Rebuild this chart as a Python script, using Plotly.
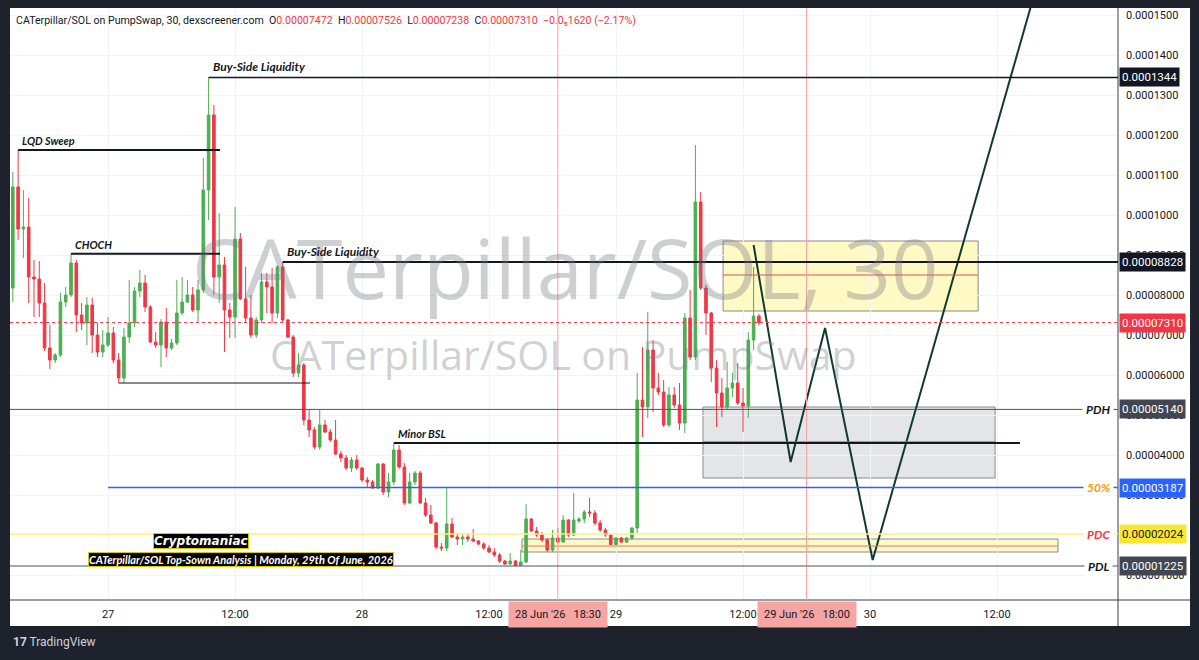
import pandas as pd
import plotly.graph_objects as go

# ---------------- data (prices in SOL) ----------------
opens = [8.175e-5, 10.70e-5, 9.65e-5, 9.70e-5, 8.45e-5, 8.40e-5, 7.80e-5, 6.675e-5, 6.375e-5, 6.50e-5,
         7.825e-5, 8.00e-5, 8.80e-5, 7.50e-5, 7.30e-5, 7.75e-5, 7.00e-5, 6.575e-5, 6.75e-5, 7.05e-5,
         6.375e-5, 5.925e-5, 6.95e-5, 7.30e-5, 8.10e-5, 8.30e-5, 7.70e-5, 6.825e-5, 6.75e-5, 7.325e-5,
         6.675e-5, 6.80e-5, 7.55e-5, 7.825e-5, 8.00e-5, 7.625e-5, 8.125e-5, 10.625e-5, 12.50e-5, 8.45e-5,
         8.75e-5, 7.625e-5, 7.45e-5, 9.40e-5, 7.90e-5, 7.425e-5, 7.00e-5, 7.375e-5, 8.325e-5, 8.20e-5,
         7.55e-5, 8.70e-5, 7.375e-5, 6.95e-5, 6.05e-5, 6.25e-5, 4.875e-5, 4.625e-5, 4.20e-5, 4.75e-5,
         4.575e-5, 4.375e-5, 4.025e-5, 3.925e-5, 3.675e-5, 3.875e-5, 3.675e-5, 3.375e-5, 3.325e-5, 3.175e-5,
         3.775e-5, 3.075e-5, 3.325e-5, 4.125e-5, 3.70e-5, 2.80e-5, 3.325e-5, 3.55e-5, 2.80e-5, 2.50e-5,
         2.30e-5, 1.70e-5, 1.675e-5, 2.275e-5, 1.95e-5, 1.90e-5, 1.95e-5, 1.90e-5, 1.85e-5, 1.775e-5,
         1.675e-5, 1.575e-5, 1.50e-5, 1.35e-5, 1.275e-5, 1.35e-5, 1.24e-5, 1.325e-5, 2.40e-5, 2.10e-5,
         2.00e-5, 1.875e-5, 1.625e-5, 1.925e-5, 1.825e-5, 2.375e-5, 2.00e-5, 2.35e-5, 2.40e-5, 2.575e-5,
         2.55e-5, 2.30e-5, 2.125e-5, 2.00e-5, 1.76e-5, 1.925e-5, 1.825e-5, 1.925e-5, 2.175e-5, 5.375e-5,
         5.20e-5, 6.625e-5, 5.675e-5, 5.575e-5, 4.75e-5, 5.50e-5, 5.25e-5, 4.80e-5, 7.425e-5, 6.45e-5,
         10.325e-5, 8.175e-5, 7.55e-5, 6.175e-5, 5.55e-5, 5.20e-5, 5.675e-5, 5.80e-5, 5.30e-5, 5.225e-5,
         6.875e-5, 7.472e-5]
highs = [11.075e-5, 11.625e-5, 10.625e-5, 10.425e-5, 8.875e-5, 8.85e-5, 8.30e-5, 7.25e-5, 6.55e-5, 8.05e-5,
         8.20e-5, 9.03e-5, 8.875e-5, 7.80e-5, 7.95e-5, 7.925e-5, 7.30e-5, 7.125e-5, 7.45e-5, 7.20e-5,
         6.55e-5, 7.175e-5, 8.375e-5, 8.20e-5, 8.625e-5, 8.50e-5, 7.75e-5, 7.075e-5, 7.40e-5, 7.675e-5,
         6.90e-5, 8.375e-5, 8.45e-5, 8.375e-5, 8.20e-5, 8.375e-5, 11.425e-5, 13.44e-5, 12.75e-5, 10.05e-5,
         8.95e-5, 7.80e-5, 10.20e-5, 9.55e-5, 8.70e-5, 8.00e-5, 7.45e-5, 8.55e-5, 8.55e-5, 8.675e-5,
         8.75e-5, 8.828e-5, 7.40e-5, 7.00e-5, 6.55e-5, 6.30e-5, 5.125e-5, 4.70e-5, 5.125e-5, 4.875e-5,
         4.65e-5, 4.875e-5, 4.10e-5, 4.00e-5, 3.95e-5, 4.00e-5, 3.70e-5, 3.45e-5, 3.375e-5, 3.80e-5,
         3.80e-5, 3.55e-5, 4.30e-5, 4.25e-5, 3.80e-5, 3.55e-5, 3.60e-5, 3.60e-5, 2.925e-5, 2.75e-5,
         2.325e-5, 1.80e-5, 3.175e-5, 2.425e-5, 2.05e-5, 2.05e-5, 2.05e-5, 2.15e-5, 1.875e-5, 1.825e-5,
         1.75e-5, 1.675e-5, 1.55e-5, 1.375e-5, 1.55e-5, 1.375e-5, 1.625e-5, 2.775e-5, 2.425e-5, 2.20e-5,
         2.075e-5, 1.925e-5, 2.125e-5, 2.175e-5, 2.50e-5, 2.40e-5, 3.05e-5, 2.45e-5, 2.625e-5, 2.925e-5,
         2.625e-5, 2.375e-5, 2.175e-5, 2.025e-5, 1.95e-5, 1.95e-5, 1.95e-5, 2.20e-5, 6.05e-5, 6.70e-5,
         7.575e-5, 6.875e-5, 6.05e-5, 5.875e-5, 5.70e-5, 5.70e-5, 5.80e-5, 7.55e-5, 8.125e-5, 11.75e-5,
         10.575e-5, 8.25e-5, 7.575e-5, 6.375e-5, 5.925e-5, 6.325e-5, 6.05e-5, 6.30e-5, 5.675e-5, 7.075e-5,
         8.70e-5, 7.526e-5]
lows = [7.825e-5, 9.375e-5, 8.925e-5, 7.80e-5, 7.45e-5, 7.45e-5, 6.60e-5, 6.15e-5, 6.30e-5, 6.45e-5,
        7.70e-5, 7.95e-5, 7.075e-5, 7.125e-5, 6.75e-5, 6.55e-5, 6.45e-5, 6.45e-5, 6.70e-5, 6.30e-5,
        5.80e-5, 5.80e-5, 6.80e-5, 7.20e-5, 7.95e-5, 7.575e-5, 6.80e-5, 6.675e-5, 6.20e-5, 6.45e-5,
        6.625e-5, 6.75e-5, 7.50e-5, 7.80e-5, 7.575e-5, 7.30e-5, 8.05e-5, 9.875e-5, 8.00e-5, 7.80e-5,
        6.575e-5, 6.925e-5, 6.925e-5, 7.875e-5, 7.30e-5, 6.925e-5, 6.925e-5, 7.30e-5, 7.55e-5, 7.30e-5,
        7.425e-5, 7.30e-5, 6.925e-5, 5.95e-5, 5.95e-5, 4.75e-5, 4.45e-5, 4.15e-5, 4.125e-5, 4.55e-5,
        4.325e-5, 4.00e-5, 3.825e-5, 3.625e-5, 3.575e-5, 3.625e-5, 3.325e-5, 3.20e-5, 3.15e-5, 3.15e-5,
        3.00e-5, 2.95e-5, 3.25e-5, 3.65e-5, 2.75e-5, 2.775e-5, 3.25e-5, 2.775e-5, 2.45e-5, 2.275e-5,
        1.65e-5, 1.60e-5, 1.60e-5, 1.925e-5, 1.75e-5, 1.75e-5, 1.825e-5, 1.825e-5, 1.75e-5, 1.625e-5,
        1.55e-5, 1.45e-5, 1.30e-5, 1.25e-5, 1.25e-5, 1.225e-5, 1.225e-5, 1.30e-5, 2.075e-5, 1.95e-5,
        1.825e-5, 1.575e-5, 1.575e-5, 1.80e-5, 1.80e-5, 1.95e-5, 1.975e-5, 2.30e-5, 2.30e-5, 2.45e-5,
        2.25e-5, 2.075e-5, 1.95e-5, 1.75e-5, 1.75e-5, 1.80e-5, 1.80e-5, 1.875e-5, 2.05e-5, 4.45e-5,
        4.925e-5, 5.075e-5, 5.50e-5, 4.70e-5, 4.70e-5, 5.175e-5, 4.625e-5, 4.55e-5, 6.375e-5, 6.375e-5,
        8.125e-5, 7.00e-5, 5.825e-5, 4.70e-5, 4.95e-5, 5.15e-5, 5.45e-5, 5.25e-5, 4.575e-5, 4.925e-5,
        6.625e-5, 7.238e-5]
closes = [10.70e-5, 9.65e-5, 9.70e-5, 8.45e-5, 8.40e-5, 7.80e-5, 6.675e-5, 6.375e-5, 6.50e-5, 7.825e-5,
          8.00e-5, 8.80e-5, 7.50e-5, 7.30e-5, 7.75e-5, 7.00e-5, 6.575e-5, 6.75e-5, 7.05e-5, 6.375e-5,
          5.925e-5, 6.95e-5, 7.30e-5, 8.10e-5, 8.30e-5, 7.70e-5, 6.825e-5, 6.75e-5, 7.325e-5, 6.675e-5,
          6.80e-5, 7.55e-5, 7.825e-5, 8.00e-5, 7.625e-5, 8.125e-5, 10.625e-5, 12.50e-5, 8.45e-5, 8.75e-5,
          7.625e-5, 7.45e-5, 9.40e-5, 7.90e-5, 7.425e-5, 7.00e-5, 7.375e-5, 8.325e-5, 8.20e-5, 7.55e-5,
          8.70e-5, 7.375e-5, 6.95e-5, 6.05e-5, 6.25e-5, 4.875e-5, 4.625e-5, 4.20e-5, 4.75e-5, 4.575e-5,
          4.375e-5, 4.025e-5, 3.925e-5, 3.675e-5, 3.875e-5, 3.675e-5, 3.375e-5, 3.325e-5, 3.175e-5, 3.775e-5,
          3.075e-5, 3.325e-5, 4.125e-5, 3.70e-5, 2.80e-5, 3.325e-5, 3.55e-5, 2.80e-5, 2.50e-5, 2.30e-5,
          1.70e-5, 1.675e-5, 2.275e-5, 1.95e-5, 1.90e-5, 1.95e-5, 1.90e-5, 1.85e-5, 1.775e-5, 1.675e-5,
          1.575e-5, 1.50e-5, 1.35e-5, 1.275e-5, 1.35e-5, 1.24e-5, 1.325e-5, 2.40e-5, 2.10e-5, 2.00e-5,
          1.875e-5, 1.625e-5, 1.925e-5, 1.825e-5, 2.375e-5, 2.00e-5, 2.375e-5, 2.40e-5, 2.575e-5, 2.55e-5,
          2.30e-5, 2.125e-5, 2.00e-5, 1.76e-5, 1.925e-5, 1.825e-5, 1.925e-5, 2.175e-5, 5.375e-5, 5.20e-5,
          6.625e-5, 5.675e-5, 5.575e-5, 4.75e-5, 5.50e-5, 5.25e-5, 4.80e-5, 7.425e-5, 6.45e-5, 10.325e-5,
          8.175e-5, 7.55e-5, 6.175e-5, 5.55e-5, 5.20e-5, 5.675e-5, 5.80e-5, 5.30e-5, 5.225e-5, 6.875e-5,
          7.472e-5, 7.310e-5]
times = pd.date_range("2026-06-26 15:00", periods=len(opens), freq="30min")

# key levels
BSL_HIGH = 13.44e-5
BSL_LOW = 8.828e-5
LQD_SWEEP = 11.625e-5
CHOCH = 9.03e-5
SWING_LOW = 5.80e-5
MINOR_BSL = 4.30e-5
PDH = 5.140e-5
FIFTY = 3.187e-5
PDC = 2.024e-5
PDL = 1.225e-5
LAST = 7.310e-5

# projected path
proj_t = ["2026-06-29 13:00", "2026-06-29 16:30", "2026-06-29 19:45", "2026-06-30 00:15", "2026-06-30 15:40"]
proj_p = [9.25e-5, 3.825e-5, 7.175e-5, 1.375e-5, 15.65e-5]

# the 0.00002000 label is fully hidden behind the PDC price tag in the original
ytick_vals = [1e-5, 3e-5, 4e-5, 5e-5, 6e-5, 7e-5, 8e-5, 9e-5, 10e-5, 11e-5, 12e-5, 13e-5, 14e-5, 15e-5]
ytick_text = ["0.00001000", "0.00003000", "0.00004000", "0.00005000", "0.00006000",
              "0.00007000", "0.00008000", "0.00009000", "0.0001000", "0.0001100", "0.0001200",
              "0.0001300", "0.0001400", "0.0001500"]
xtick_vals = ["2026-06-27 00:00", "2026-06-27 12:00", "2026-06-28 00:00", "2026-06-28 12:00",
              "2026-06-29 00:00", "2026-06-29 12:00", "2026-06-30 00:00", "2026-06-30 12:00"]
xtick_text = ["27", "12:00", "28", "12:00", "29", "12:00", "30", "12:00"]

X0 = "2026-06-26 14:44"
X1 = "2026-06-30 23:26"

GREEN = "#4caf50"
RED = "#f23645"
FONT = "Lato"

fig = go.Figure()
fig.add_trace(go.Candlestick(
    x=times, open=opens, high=highs, low=lows, close=closes,
    increasing=dict(line=dict(color=GREEN, width=1), fillcolor=GREEN),
    decreasing=dict(line=dict(color=RED, width=1), fillcolor=RED),
    whiskerwidth=0, showlegend=False, hoverinfo="skip"))
fig.add_trace(go.Scatter(x=proj_t, y=proj_p, mode="lines",
                         line=dict(color="#0f3b2f", width=2), showlegend=False, hoverinfo="skip"))

shapes = []
# white chart background including axis panels
shapes.append(dict(type="rect", xref="paper", yref="paper", x0=0, x1=1.065, y0=-0.0439, y1=1.0,
                   fillcolor="white", line=dict(width=0), layer="below"))
# horizontal grid at 0.00002000 (tick label removed above)
shapes.append(dict(type="line", xref="paper", yref="y", x0=0, x1=1, y0=2e-5, y1=2e-5,
                   line=dict(color="#f2f3f5", width=1), layer="below"))
# axis separators
shapes.append(dict(type="line", xref="paper", yref="paper", x0=1.0, x1=1.0, y0=-0.0439, y1=1.0,
                   line=dict(color="#3a3d45", width=1)))
shapes.append(dict(type="line", xref="paper", yref="paper", x0=0, x1=1.065, y0=0, y1=0,
                   line=dict(color="#3a3d45", width=1)))

def hline(x0, x1, y, color, width=1, dash="solid"):
    shapes.append(dict(type="line", xref="x", yref="y", x0=x0, x1=x1, y0=y, y1=y,
                       line=dict(color=color, width=width, dash=dash)))

def rect(x0, x1, y0, y1, fill, border):
    shapes.append(dict(type="rect", xref="x", yref="y", x0=x0, x1=x1, y0=y0, y1=y1,
                       fillcolor=fill, line=dict(color=border, width=1), layer="below"))

# zones
rect("2026-06-29 10:07", "2026-06-30 10:13", 7.60e-5, 9.35e-5, "rgba(255,235,59,0.30)", "#8a8a8a")
rect("2026-06-29 08:13", "2026-06-30 11:49", 3.425e-5, 5.20e-5, "rgba(120,123,134,0.20)", "#8a8a8a")
rect("2026-06-28 15:07", "2026-06-30 17:46", 1.575e-5, 1.90e-5, "rgba(255,235,59,0.30)", "#8a8a8a")
hline("2026-06-29 10:07", "2026-06-30 10:13", 8.50e-5, "#e05252", 1)
hline("2026-06-29 08:13", "2026-06-30 11:49", 4.33e-5, "#e05252", 1)
hline("2026-06-28 15:07", "2026-06-30 17:46", 1.725e-5, "#e07070", 1)

# crosshair verticals
for t in ["2026-06-28 18:30", "2026-06-29 18:00"]:
    shapes.append(dict(type="line", xref="x", yref="paper", x0=t, x1=t, y0=0, y1=1,
                       line=dict(color="#f5a3a3", width=1)))

# key horizontal levels
hline(X0, X1, PDH, "#50535e", 1)
hline("2026-06-27 00:00", X1, FIFTY, "#2962ff", 1.5)
hline(X0, X1, PDC, "#fff176", 1.5)
hline(X0, X1, PDL, "#50535e", 1)
hline(X0, X1, LAST, RED, 1, "dot")
hline(times[37], X1, BSL_HIGH, "#131722", 1.5)
hline(times[51], X1, BSL_LOW, "#131722", 2)
hline(times[1], "2026-06-27 10:35", LQD_SWEEP, "#131722", 2)
hline(times[11], "2026-06-27 10:35", CHOCH, "#131722", 2)
hline(times[20], "2026-06-27 19:05", SWING_LOW, "#131722", 1)
hline(times[72], "2026-06-30 14:10", MINOR_BSL, "#131722", 2)

annotations = []

def paper_x(px):
    return (px - 10) / 1108.0

def paper_y(py):
    return (600 - py) / 592.0

# watermark
annotations.append(dict(text="CATerpillar/SOL, 30", xref="paper", yref="paper", x=paper_x(565), y=paper_y(266),
                        xanchor="center", yanchor="middle", showarrow=False,
                        font=dict(family="Open Sans", size=83, color="rgba(120,123,134,0.36)")))
annotations.append(dict(text="CATerpillar/SOL on PumpSwap", xref="paper", yref="paper", x=paper_x(563), y=paper_y(354),
                        xanchor="center", yanchor="middle", showarrow=False,
                        font=dict(family="Open Sans", size=41, color="rgba(120,123,134,0.36)")))

# header
rs = "<span style='color:%s'>" % RED
header = ("CATerpillar/SOL on PumpSwap, 30, dexscreener.com\u00a0\u00a0O" + rs + "0.00007472</span>"
          "\u00a0\u00a0H" + rs + "0.00007526</span>\u00a0\u00a0L" + rs + "0.00007238</span>"
          "\u00a0\u00a0C" + rs + "0.00007310</span>\u00a0\u00a0" + rs + "\u22120.0\u20851620 (\u22122.17%)</span>")
annotations.append(dict(text=header, xref="paper", yref="paper", x=paper_x(14), y=paper_y(21),
                        xanchor="left", yanchor="middle", showarrow=False,
                        font=dict(family="Roboto", size=10.6, color="#131722")))

def label(text, t, price, color="#131722", size=11.2):
    annotations.append(dict(text="<b><i>%s</i></b>" % text, xref="x", yref="y", x=t, y=price,
                            xanchor="left", yanchor="bottom", yshift=1, xshift=2, showarrow=False,
                            font=dict(family=FONT, size=size, color=color)))

label("Buy-Side Liquidity", times[37], BSL_HIGH, size=12)
label("LQD Sweep", times[1], LQD_SWEEP, size=10.8)
label("CHOCH", times[11], CHOCH, size=10.8)
label("Buy-Side Liquidity", times[51], BSL_LOW, size=12)
label("Minor BSL", times[72], MINOR_BSL, size=11)

# right-side level labels
for txt, price, col in [("PDH", PDH, "#131722"), ("50%", FIFTY, "#ff9800"),
                        ("PDC", PDC, RED), ("PDL", PDL, "#131722")]:
    annotations.append(dict(text="<b><i>%s</i></b>" % txt, xref="paper", yref="y", x=paper_x(1098), y=price,
                            xanchor="center", yanchor="middle", showarrow=False, bgcolor="white",
                            borderpad=3, font=dict(family=FONT, size=12, color=col)))

# price tags
for txt, price, bg, fg in [("0.0001344", BSL_HIGH, "#131722", "white"),
                           ("0.00008828", BSL_LOW, "#131722", "white"),
                           ("0.00007310", LAST, RED, "white"),
                           ("0.00005140", PDH, "#434651", "white"),
                           ("0.00003187", FIFTY, "#2962ff", "white"),
                           ("0.00002024", PDC, "#f7e733", "#131722"),
                           ("0.00001225", PDL, "#434651", "white")]:
    annotations.append(dict(text=txt, xref="paper", yref="y", x=1.0, y=price, xanchor="left",
                            yanchor="middle", showarrow=False, bgcolor=bg, borderpad=2, xshift=1,
                            font=dict(family="Roboto", size=11.5, color=fg)))

# crosshair time labels
for txt, t in [("28 Jun '26\u00a0\u00a0\u00a018:30", "2026-06-28 18:30"),
               ("29 Jun '26\u00a0\u00a0\u00a018:00", "2026-06-29 18:00")]:
    annotations.append(dict(text=txt, xref="x", yref="paper", x=t, y=paper_y(614), xanchor="center",
                            yanchor="middle", showarrow=False, bgcolor="#f6a5a5", borderpad=6,
                            font=dict(family="Roboto", size=11, color="#131722")))

# branding boxes
annotations.append(dict(text="<b><i>Cryptomaniac</i></b>", xref="paper", yref="paper", x=paper_x(201),
                        y=paper_y(541), xanchor="center", yanchor="middle", showarrow=False,
                        bgcolor="black", bordercolor="#d8c800", borderwidth=1, borderpad=0,
                        font=dict(family="DejaVu Sans", size=12, color="white")))
annotations.append(dict(text="<b><i>CATerpillar/SOL Top-Sown Analysis | Monday, 29th Of June, 2026</i></b>",
                        xref="paper", yref="paper", x=paper_x(241), y=paper_y(559), xanchor="center",
                        yanchor="middle", showarrow=False, bgcolor="black", bordercolor="#d8c800",
                        borderwidth=1, borderpad=0, font=dict(family=FONT, size=11, color="white")))

# TradingView logo text
annotations.append(dict(text="<b>17</b> TradingView", xref="paper", yref="paper", x=paper_x(11), y=paper_y(642),
                        xanchor="left", yanchor="middle", showarrow=False,
                        font=dict(family="Roboto", size=12, color="#d1d4dc")))

fig.update_layout(
    width=1199, height=660,
    margin=dict(l=10, r=81, t=8, b=60),
    paper_bgcolor="#1e222d", plot_bgcolor="white",
    shapes=shapes, annotations=annotations,
    showlegend=False,
    xaxis=dict(type="date", range=[X0, X1], rangeslider=dict(visible=False),
               tickvals=xtick_vals, ticktext=xtick_text, showgrid=True, gridcolor="#f2f3f5",
               zeroline=False, showline=False, ticks="", ticklabelstandoff=6,
               tickfont=dict(family="Roboto", size=11, color="#131722"), fixedrange=True),
    yaxis=dict(side="right", range=[0.375e-5, 15.175e-5], tickvals=ytick_vals, ticktext=ytick_text,
               showgrid=True, gridcolor="#f2f3f5", zeroline=False, showline=False, ticks="",
               ticklabelstandoff=7, tickfont=dict(family="Roboto", size=11, color="#131722"),
               fixedrange=True),
)

fig.write_html("out.html")
